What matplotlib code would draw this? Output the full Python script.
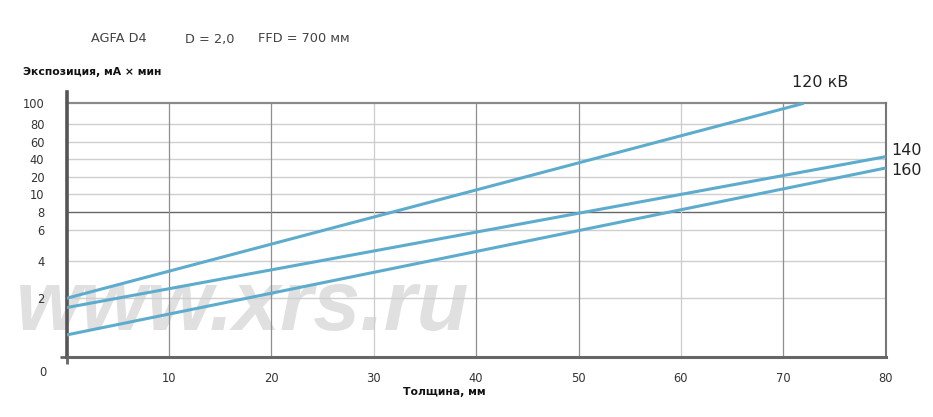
import numpy as np
import matplotlib
matplotlib.use("Agg")
import matplotlib.pyplot as plt

plt.rcParams['font.family'] = ['DejaVu Sans']

# thickness, mm
thickness_120 = [0, 72]
thickness_140 = [0, 80]
thickness_160 = [0, 80]
# exposure, mA x min
exposure_120 = [2.0, 100]
exposure_140 = [1.68, 43]
exposure_160 = [0.74, 30]

series_labels = ["120 кВ", "140", "160"]
x_ticks = [10, 20, 30, 40, 50, 60, 70, 80]
y_ticks = [2, 4, 6, 8, 10, 20, 40, 60, 80, 100]

# the chart's own uneven exposure scale (value -> relative height)
scale_vals = [0, 2, 4, 6, 8, 10, 20, 40, 60, 80, 100, 110]
scale_pos = [0, 58.2, 95.5, 126.5, 144.2, 162.2, 179.8, 197.2, 214.8, 232.5, 253.2, 264.5]


def forward(v):
    return np.interp(v, scale_vals, scale_pos)


def inverse(p):
    return np.interp(p, scale_pos, scale_vals)


W, H = 933, 417
fig = plt.figure(figsize=(W / 100, H / 100), dpi=100)
ax = fig.add_axes([66.5 / W, (H - 356.5) / H, (885.7 - 66.5) / W, 264.5 / H])
ax.set_zorder(2)
ax.set_facecolor('none')
ax.set_yscale('function', functions=(forward, inverse))
ax.set_xlim(0, 80)
ax.set_ylim(0, 110)

# watermark (behind the chart)
fig.text(16 / W, (H - 330) / H, "www.xrs.ru", family='Liberation Sans',
         weight='bold', style='italic', fontsize=61, color='#e0e0e0',
         ha='left', va='baseline', zorder=0)

# grid
light_y = [2, 4, 6, 10, 20, 40, 60, 80]
for v in light_y:
    ax.axhline(v, color='#cfcfcf', lw=1.0, zorder=1)
ax.axhline(8, color='#666666', lw=1.0, zorder=1)
ax.plot([0, 80], [100, 100], color='#8a8a8a', lw=1.6, zorder=2, clip_on=False)
light_x = [30, 60]
for v in x_ticks[:-1]:
    ax.axvline(v, ymax=forward(100) / forward(110),
               color='#cccccc' if v in light_x else '#8f8f8f', lw=0.9, zorder=1)

line_color = '#5eaccd'
ax.plot(thickness_120, exposure_120, color=line_color, lw=2.2, zorder=3, solid_capstyle='butt')
ax.plot(thickness_140, exposure_140, color=line_color, lw=2.2, zorder=3, solid_capstyle='butt')
ax.plot(thickness_160, exposure_160, color=line_color, lw=2.2, zorder=3, solid_capstyle='butt')

ax.annotate(series_labels[0], (thickness_120[-1], exposure_120[-1]), xytext=(12, 15),
            textcoords='offset points', ha='center', va='center', fontsize=11.5,
            color='#222222', annotation_clip=False)
ax.annotate(series_labels[1], (thickness_140[-1], exposure_140[-1]), xytext=(4, 4.5),
            textcoords='offset points', ha='left', va='center', fontsize=11.5,
            color='#222222', annotation_clip=False)
ax.annotate(series_labels[2], (thickness_160[-1], exposure_160[-1]), xytext=(4, -1.5),
            textcoords='offset points', ha='left', va='center', fontsize=11.5,
            color='#222222', annotation_clip=False)

# spines
ax.spines['top'].set_visible(False)
ax.spines['left'].set_color('#555555')
ax.spines['left'].set_linewidth(2.6)
ax.spines['bottom'].set_color('#666666')
ax.spines['bottom'].set_linewidth(2.2)
ax.spines['right'].set_color('#777777')
ax.spines['right'].set_linewidth(1.5)
ax.spines['right'].set_bounds(0, 100)

ax.set_xticks(x_ticks)
ax.set_xticklabels([str(t) for t in x_ticks])
ax.set_yticks(y_ticks)
ax.set_yticklabels([str(t) for t in y_ticks])
ax.tick_params(axis='both', which='major', length=0, labelsize=8.3, labelcolor='#333333')
ax.tick_params(axis='x', which='major', pad=11)
ax.tick_params(axis='y', which='major', pad=16)
ax.set_xticks([0, 80], minor=True)
ax.set_yticks([0], minor=True)
ax.tick_params(axis='both', which='minor', length=5, width=2, color='#666666')
ax.yaxis.set_minor_formatter(matplotlib.ticker.NullFormatter())
ax.xaxis.set_minor_formatter(matplotlib.ticker.NullFormatter())

fig.text(43 / W, (H - 373) / H, "0", fontsize=8.3, color='#333333', ha='center', va='center')

# titles
fig.text(90.7 / W, (H - 39) / H, "AGFA D4", fontsize=9.3, color='#444444', va='center')
fig.text(185 / W, (H - 39) / H, "D = 2,0", fontsize=9.3, color='#444444', va='center')
fig.text(258 / W, (H - 39) / H, "FFD = 700 мм", fontsize=9.3, color='#444444', va='center')
fig.text(23 / W, (H - 72) / H, "Экспозиция, мА × мин", fontsize=7.8, weight='bold',
         color='#111111', va='center')
fig.text(444 / W, (H - 392) / H, "Толщина, мм", fontsize=7.8, weight='bold',
         color='#111111', va='center', ha='center')

fig.savefig("out.png", dpi=100)
